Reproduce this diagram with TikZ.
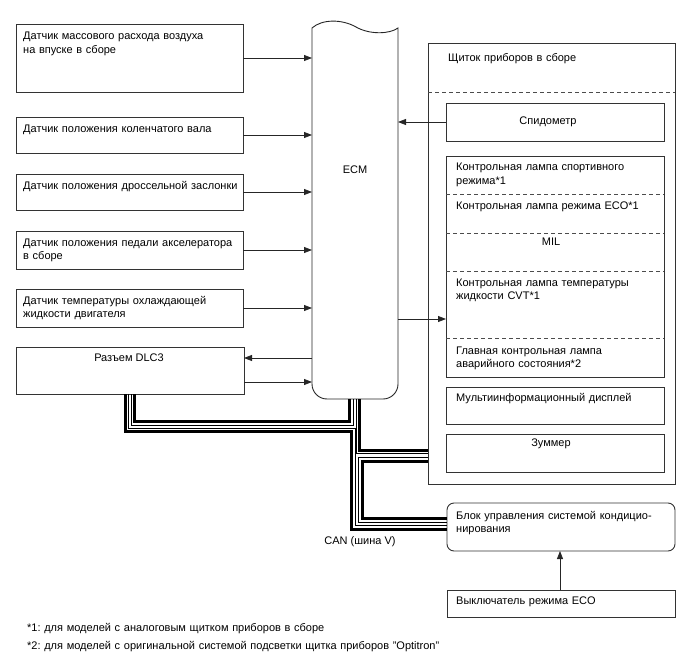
\documentclass[tikz,border=0pt]{standalone}
\usepackage{fontspec}
\setmainfont{Liberation Sans}
\usetikzlibrary{arrows.meta}
\begin{document}
\frenchspacing
\begin{tikzpicture}[x=1pt,y=-1pt,
  box/.style={draw=black!80, line width=0.9pt, inner sep=0pt, outer sep=0pt, anchor=north west},
  lbl/.style={anchor=base west, inner sep=0pt, align=left, text width=225pt, font=\fontsize{11}{13.5}\selectfont},
  clbl/.style={anchor=base, inner sep=0pt, font=\fontsize{11}{13.5}\selectfont},
  fnote/.style={anchor=base west, inner sep=0pt, align=left, text width=600pt, font=\fontsize{11}{13}\selectfont},
  arr/.style={-{Triangle[length=8pt,width=6pt]}, line width=0.8pt, draw=black!85},
  sep/.style={dashed, dash pattern=on 4pt off 3pt, line width=0.8pt, draw=black!70},
  thickbus/.style={line width=3pt, black},
  thinbus/.style={line width=1pt, black}]
\useasboundingbox (0,0) rectangle (688,658);

% left sensor boxes
\node[box, minimum width=227pt, minimum height=68pt] (maf) at (16,24) {};
\node[box, minimum width=227pt, minimum height=36pt] (ckp) at (16,117) {};
\node[box, minimum width=227pt, minimum height=36pt] (tps) at (16,174) {};
\node[box, minimum width=227pt, minimum height=38pt] (app) at (16,231) {};
\node[box, minimum width=227pt, minimum height=38pt] (ect) at (16,289) {};
\node[box, minimum width=228pt, minimum height=47pt] (dlc) at (16,347) {};

\node[lbl] (tmaf) at (23,40) {Датчик массового расхода воздуха\\на впуске в сборе};
\node[lbl] (tckp) at (23,132) {Датчик положения коленчатого вала};
\node[lbl] (ttps) at (23,189) {Датчик положения дроссельной заслонки};
\node[lbl] (tapp) at (23,246) {Датчик положения педали акселератора\\в сборе};
\node[lbl] (tect) at (23,304) {Датчик температуры охлаждающей\\жидкости двигателя};
\node[clbl] (tdlc) at (129,361) {Разъем DLC3};

% ECM
\node[inner sep=0pt, outer sep=0pt, minimum width=86pt, minimum height=371pt, anchor=north west] (ecm) at (312,28) {};
\draw[line width=0.9pt, black!85] (312,28) .. controls (322,19) and (342,19) .. (356,27)
  .. controls (370,35) and (390,34) .. (398,28) -- (398,384)
  arc[start angle=0, end angle=-90, radius=15pt] -- (327,399)
  arc[start angle=-90, end angle=-180, radius=15pt] -- cycle;
\node[clbl] (tecm) at (355,174) {ECM};

% sensor arrows
\draw[arr] (maf.east) -- (maf.east -| ecm.west);
\draw[arr] (ckp.east) -- (ckp.east -| ecm.west);
\draw[arr] (tps.east) -- (tps.east -| ecm.west);
\draw[arr] (app.east) -- (app.east -| ecm.west);
\draw[arr] (ect.east) -- (ect.east -| ecm.west);
\draw[arr] (ecm.west |- 0,358) -- (dlc.east |- 0,358);
\draw[arr] (dlc.east |- 0,382) -- (ecm.west |- 0,382);

% cluster
\node[box, minimum width=247pt, minimum height=441pt] (clu) at (428,43) {};
\draw[sep] (clu.west |- 0,92) -- (clu.east |- 0,92);
\node[lbl] (tclu) at (448,62) {Щиток приборов в сборе};

\node[box, minimum width=218pt, minimum height=38pt] (spd) at (446,103) {};
\node[clbl] (tspd) at (548,125) {Спидометр};

\node[box, minimum width=218pt, minimum height=221pt] (lamp) at (446,156) {};
\draw[sep] (lamp.west |- 0,194) -- (lamp.east |- 0,194);
\draw[sep] (lamp.west |- 0,233) -- (lamp.east |- 0,233);
\draw[sep] (lamp.west |- 0,271) -- (lamp.east |- 0,271);
\draw[sep] (lamp.west |- 0,338) -- (lamp.east |- 0,338);
\node[lbl] (tl1) at (456,171) {Контрольная лампа спортивного\\режима*1};
\node[lbl] (tl2) at (456,209) {Контрольная лампа режима ECO*1};
\node[clbl] (tl3) at (551,245) {MIL};
\node[lbl] (tl4) at (456,286) {Контрольная лампа температуры\\жидкости CVT*1};
\node[lbl] (tl5) at (456,354) {Главная контрольная лампа\\аварийного состояния*2};

\node[box, minimum width=218pt, minimum height=37pt] (mid) at (446,387) {};
\node[lbl] (tmid) at (456,401) {Мультиинформационный дисплей};
\node[box, minimum width=218pt, minimum height=38pt] (buz) at (446,434) {};
\node[clbl] (tbuz) at (551,446) {Зуммер};

\draw[arr] (spd.west) -- (spd.west -| ecm.east);
\draw[arr] (ecm.east |- 0,319) -- (lamp.west |- 0,319);

% A/C and ECO switch
\node[box, rounded corners=7pt, minimum width=228pt, minimum height=48pt] (ac) at (447,503) {};
\node[lbl] (tac) at (456,519) {Блок управления системой кондицио-\\нирования};
\node[box, minimum width=228pt, minimum height=27pt] (eco) at (447,590) {};
\node[lbl] (teco) at (456,604) {Выключатель режима ECO};
\draw[arr] (eco.north -| 560,0) -- (ac.south -| 560,0);

% CAN bus
\draw[thickbus] ([xshift=118.5pt]dlc.south west) |- (349.5,421.5) -- ([xshift=37.5pt]ecm.south west);
\draw[thinbus] ([xshift=115pt]dlc.south west) |- (353,425) -- ([xshift=41pt]ecm.south west);
\draw[thickbus] ([xshift=109pt]dlc.south west) |- (351,431.5) |- (ac.west |- 0,529.5);
\draw[thinbus] ([xshift=112.5pt]dlc.south west) |- (355,428) |- (ac.west |- 0,525);
\draw[thinbus] ([xshift=44pt]ecm.south west) |- (clu.west |- 0,453.5);
\draw[thickbus] ([xshift=47.5pt]ecm.south west) |- (clu.west |- 0,450);
\draw[thinbus] (clu.west |- 0,457) -| (358.5,522) -- (ac.west |- 0,522);
\draw[thickbus] (clu.west |- 0,461) -| (362,518) -- (ac.west |- 0,518);
\node[clbl] (tcan) at (360,544) {CAN (шина V)};

% footnotes
\node[fnote] (fn1) at (27,631) {*1: для моделей с аналоговым щитком приборов в сборе};
\node[fnote] (fn2) at (27,649) {*2: для моделей с оригинальной системой подсветки щитка приборов "Optitron"};
\end{tikzpicture}
\end{document}
